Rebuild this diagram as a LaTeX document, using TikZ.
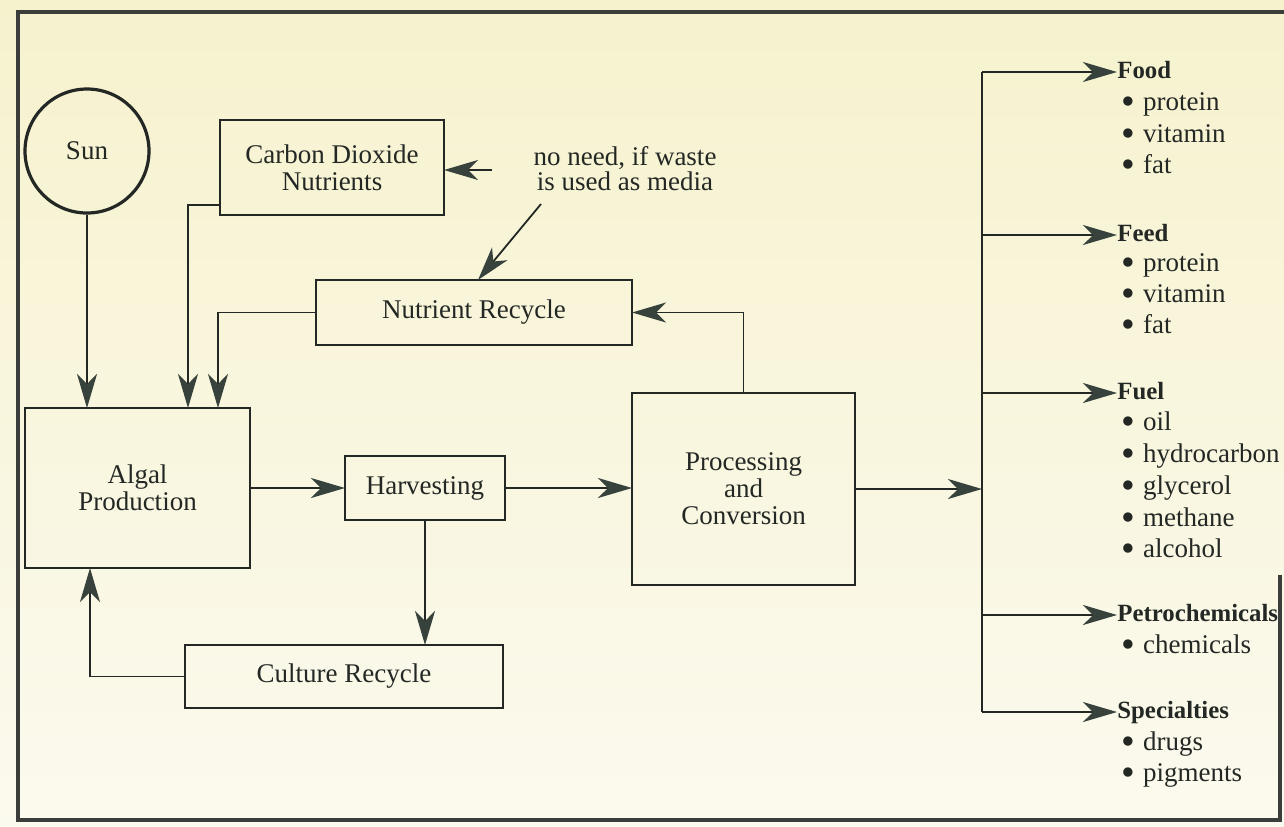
\documentclass[tikz,border=0pt]{standalone}
\usepackage{fontspec}
\setmainfont{Liberation Serif}
\usetikzlibrary{arrows.meta,calc}
\definecolor{ink}{RGB}{36,40,36}
\definecolor{tipc}{RGB}{55,66,60}
\definecolor{bgtop}{RGB}{246,242,206}
\definecolor{bgbot}{RGB}{251,250,238}
\newcommand{\blt}{\raisebox{-0.32ex}{\scalebox{1.45}{•}}\hspace{0.3em}}
\begin{document}
\begin{tikzpicture}[x=0.5pt,y=-0.5pt,
  every node/.style={font=\fontsize{13.5}{13.5}\selectfont, text=ink},
  box/.style={draw=ink, line width=1pt, inner sep=0pt, outer sep=0pt, align=center},
  conn/.style={draw=ink, line width=0.9pt},
  arr/.style={conn, -{Stealth[length=17pt,width=10pt,inset=5pt,fill=tipc,color=tipc]}},
  frame/.style={draw=ink!90, line width=1.6pt},
  cat/.style={anchor=west, inner sep=0pt, text height=9pt, text depth=2.5pt, font=\bfseries\fontsize{12.4}{14}\selectfont},
  item/.style={anchor=west, inner sep=0pt, text height=9pt, text depth=2.5pt, font=\fontsize{13.5}{16}\selectfont},
  note/.style={align=center, inner sep=0pt, font=\fontsize{13.5}{12.5}\selectfont}
]
% background
\shade[top color=bgtop, bottom color=bgbot] (0,0) rectangle (1284,826);
\useasboundingbox (0,0) rectangle (1284,826);
% frame
\draw[frame] (1284,12) -- (18,12) -- (18,820) -- (1280,820) -- (1280,575);

% nodes
\node[circle, draw=ink, line width=1.6pt, minimum size=62pt, inner sep=0pt] (sun) at (87,151) {Sun};
\node[box, minimum width=112pt, minimum height=47.5pt] (co2) at (332,167.5) {Carbon Dioxide\\Nutrients};
\node[note] (note) at (625,169) {no need, if waste\\is used as media};
\coordinate (notein) at (492,170);
\coordinate (noteout) at (541,204);
\node[box, minimum width=158pt, minimum height=32.5pt] (nr) at (474,312.5) {Nutrient Recycle};
\node[box, minimum width=112.5pt, minimum height=80pt] (alg) at (137.5,488) {Algal\\Production};
\node[box, minimum width=80pt, minimum height=32pt] (harv) at (425,488) {Harvesting};
\node[box, minimum width=111.5pt, minimum height=96pt] (proc) at (743.5,489) {Processing\\and\\Conversion};
\node[box, minimum width=159pt, minimum height=31.5pt] (cr) at (344,676.5) {Culture Recycle};

% trunk
\coordinate (ttop) at (982,72);
\coordinate (tbot) at (982,712);

% product labels
\node[cat] (food) at (1117,72) {Food};
\node[item] (food1) at (1121,104) {\blt protein};
\node[item] (food2) at (1121,136) {\blt vitamin};
\node[item] (food3) at (1121,167) {\blt fat};

\node[cat] (feed) at (1117,235) {Feed};
\node[item] (feed1) at (1121,265) {\blt protein};
\node[item] (feed2) at (1121,296) {\blt vitamin};
\node[item] (feed3) at (1121,327) {\blt fat};

\node[cat] (fuel) at (1117,393) {Fuel};
\node[item] (fuel1) at (1121,424) {\blt oil};
\node[item] (fuel2) at (1121,456) {\blt hydrocarbon};
\node[item] (fuel3) at (1121,488) {\blt glycerol};
\node[item] (fuel4) at (1121,520) {\blt methane};
\node[item] (fuel5) at (1121,551) {\blt alcohol};

\node[cat] (petro) at (1117,615) {Petrochemicals};
\node[item] (petro1) at (1121,647) {\blt chemicals};

\node[cat] (spec) at (1117,712) {Specialties};
\node[item] (spec1) at (1121,744) {\blt drugs};
\node[item] (spec2) at (1121,775) {\blt pigments};

% connectors
\draw[arr] (sun.south) -- (sun.south |- alg.north);
\draw[arr] ($(co2.south west)+(0,-10)$) -| ($(alg.north west)+(163,0)$);
\draw[arr] (nr.west) -| ($(alg.north west)+(193,0)$);
\draw[arr] (notein) -- (co2.east |- notein);
\draw[arr] (noteout) -- ($(nr.north)+(4,0)$);
\draw[arr] (alg.east) -- (harv.west);
\draw[arr] (harv.east) -- (harv.east -| proc.west);
\draw[arr] (proc.north) |- (nr.east);
\draw[arr] (harv.south) -- (harv.south |- cr.north);
\draw[arr] (cr.west) -| ($(alg.south west)+(65,0)$);
\draw[arr] (proc.east) -- (proc.east -| ttop);
\draw[conn] (ttop) -- (tbot);
\draw[arr] (food.west -| ttop) -- (food.west);
\draw[arr] (feed.west -| ttop) -- (feed.west);
\draw[arr] (fuel.west -| ttop) -- (fuel.west);
\draw[arr] (petro.west -| ttop) -- (petro.west);
\draw[arr] (spec.west -| ttop) -- (spec.west);
\end{tikzpicture}
\end{document}
